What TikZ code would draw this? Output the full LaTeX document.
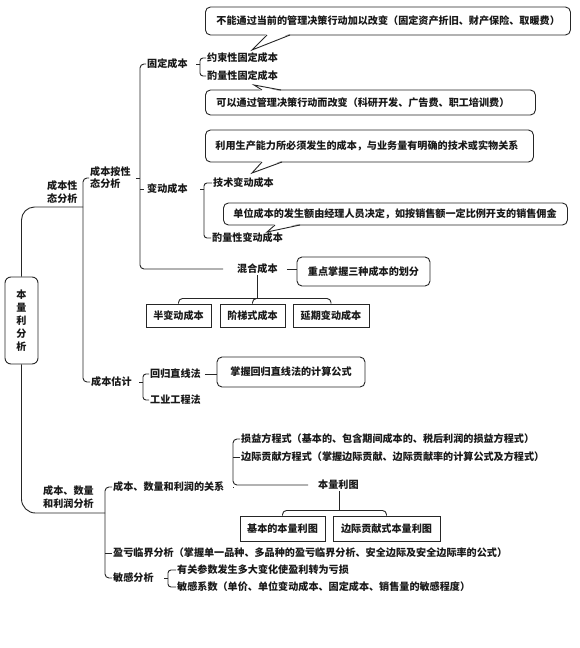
\documentclass[tikz,border=0pt]{standalone}
\usepackage{fontspec}
\newfontfamily\cjk{Noto Sans CJK SC}
\tikzset{
  every node/.style={font=\cjk\bfseries\fontsize{10.1}{13}\selectfont, inner sep=1pt, text=black!90},
  ln/.style={line width=0.9pt, draw=black!85},
  txt/.style={anchor=west},
  callout/.style={draw=black!85, line width=0.9pt, rounded corners=5pt, inner sep=0pt},
  callw/.style={callout, anchor=west, align=left},
  sq/.style={draw=black!85, line width=1pt, inner sep=0pt},
}
\begin{document}
\begin{tikzpicture}[x=1pt,y=-1pt]
\useasboundingbox (0,0) rectangle (580,648);
\fill[white] (0,0) rectangle (580,648);

% ---------- nodes ----------
\node[callout, rounded corners=6pt, minimum width=33pt, minimum height=87pt, align=center] (root) at (21.5,320.5) {本\\量\\利\\分\\析};

\node[txt, align=left] (xingtai) at (46,192) {成本性\\态分析};
\node[txt, align=left, font=\cjk\bfseries\fontsize{10.1}{12}\selectfont] (xing) at (89,178) {成本按性\\态分析};
\node[txt] (guding) at (146,64) {固定成本};
\node[txt] (biandong) at (146,189) {变动成本};
\node[txt] (hunhe) at (236,269) {混合成本};
\node[txt] (yueshu) at (206,58) {约束性固定成本};
\node[txt] (zlgd) at (206,76) {酌量性固定成本};
\node[txt] (jishu) at (212,183) {技术变动成本};
\node[txt] (zlbd) at (211,238) {酌量性变动成本};

\node[callw, inner xsep=11pt, text width=343pt, minimum height=28pt] (c1) at (205,21) {不能通过当前的管理决策行动加以改变（固定资产折旧、财产保险、取暖费）};
\node[callw, inner xsep=11pt, text width=308pt, minimum height=25pt] (c2) at (205,102.5) {可以通过管理决策行动而改变（科研开发、广告费、职工培训费）};
\node[callw, inner xsep=10pt, text width=308pt, minimum height=32pt] (c3) at (205,146) {利用生产能力所必须发生的成本，与业务量有明确的技术或实物关系};
\node[callw, inner xsep=10pt, text width=324pt, minimum height=22pt] (c4) at (223,214) {单位成本的发生额由经理人员决定，如按销售额一定比例开支的销售佣金};

\node[callout, minimum width=133pt, minimum height=29pt] (zhongdian) at (363.5,271.5) {重点掌握三种成本的划分};
\node[sq, minimum width=65pt, minimum height=23pt] (bb1) at (178.5,315.5) {半变动成本};
\node[sq, minimum width=65pt, minimum height=23pt] (bb2) at (252.5,315.5) {阶梯式成本};
\node[sq, minimum width=76pt, minimum height=23pt] (bb3) at (331,315.5) {延期变动成本};

\node[txt] (gusuan) at (90,382) {成本估计};
\node[txt] (huigui) at (149,374) {回归直线法};
\node[txt] (gongye) at (149,400) {工业工程法};
\node[callout, minimum width=148pt, minimum height=30pt] (zhangwo) at (291,372) {掌握回归直线法的计算公式};

\node[txt, align=left] (cvp) at (42,497) {成本、数量\\和利润分析};
\node[txt] (guanxi) at (112,487) {成本、数量和利润的关系};
\node[txt] (sunyi) at (240,439) {损益方程式（基本的、包含期间成本的、税后利润的损益方程式）};
\node[txt] (bianji) at (240,457) {边际贡献方程式（掌握边际贡献、边际贡献率的计算公式及方程式）};
\node[txt] (blt) at (317,485) {本量利图};
\node[sq, minimum width=85pt, minimum height=25pt] (jb) at (282.5,528.5) {基本的本量利图};
\node[sq, minimum width=107pt, minimum height=25pt] (bj) at (386.5,528.5) {边际贡献式本量利图};
\node[txt] (yingkui) at (112,553) {盈亏临界分析（掌握单一品种、多品种的盈亏临界分析、安全边际及安全边际率的公式）};
\node[txt] (mingan) at (112,578) {敏感分析};
\node[txt] (youguan) at (176,570) {有关参数发生多大变化使盈利转为亏损};
\node[txt] (xishu) at (176,587) {敏感系数（单价、单位变动成本、固定成本、销售量的敏感程度）};

% ---------- callout pointers ----------
\fill[white] (267,33.5) -- (252,50) -- (290,33.5) -- cycle;
\draw[ln] (267,35) -- (252,50) -- (290,35);
\fill[white] (262,91.5) -- (254,85) -- (281,91.5) -- cycle;
\draw[ln] (262,90) -- (254,85) -- (281,90);
\fill[white] (262,160.5) -- (252,173) -- (282,160.5) -- cycle;
\draw[ln] (262,162) -- (252,173) -- (282,162);
\fill[white] (275,223.5) -- (267,232) -- (300,223.5) -- cycle;
\draw[ln] (275,225) -- (267,232) -- (300,225);

% ---------- coordinates ----------
\coordinate (j1) at (83,207);
\coordinate (b1) at (83,0);
\coordinate (j2) at (105,513);
\coordinate (b5) at (105,0);
\coordinate (b2) at (140,0);
\coordinate (b3) at (200,0);
\coordinate (b4) at (204,0);
\coordinate (b6) at (233,0);
\coordinate (b7) at (143,0);
\coordinate (b8) at (168,0);
\coordinate (h1) at (257,299);
\coordinate (h2) at (339,511);

% ---------- connectors ----------
\draw[ln, rounded corners=13] (root.north) |- (j1);
\draw[ln, rounded corners=14] (root.south) |- (j2);

\draw[ln, rounded corners=4] (xing.west) -- (xing.west -| b1) -- (gusuan.west -| b1) -- (gusuan.west);

\draw[ln, rounded corners=4] (guding.west) -- (guding.west -| b2) -- (b2 |- hunhe.west) -- ([xshift=-13]hunhe.west);
\draw[ln] ([xshift=4]xing.east) -- (xing.east -| b2);
\draw[ln] (biandong.west -| b2) -- ([xshift=-2]biandong.west);

\draw[ln, rounded corners=3] (yueshu.west) -- (yueshu.west -| b3) -- (zlgd.west -| b3) -- (zlgd.west);
\draw[ln] (guding.east -| b3) -- ++(-4,0);
\draw[ln, rounded corners=3] (jishu.west) -- (jishu.west -| b4) -- (zlbd.west -| b4) -- (zlbd.west);
\draw[ln] (biandong.east -| b4) -- ++(-4,0);

\draw[ln] ([xshift=8]hunhe.east) -- (zhongdian.west |- hunhe.east);
\draw[ln] (hunhe.south -| h1) -- (h1);
\draw[ln, rounded corners=4] (bb1.north) -- ++(0,-5) -| (bb3.north);
\draw[ln, rounded corners=4] (bb2.north) -- ++(0,-5) -- ++(6,0);

\draw[ln, rounded corners=3] (huigui.west) -- (huigui.west -| b7) -- (gongye.west -| b7) -- (gongye.west);
\draw[ln] (gusuan.east -| b7) -- ++(-4,0);
\draw[ln] ([xshift=3]huigui.east) -- (zhangwo.west |- huigui.east);

\draw[ln, rounded corners=4] (guanxi.west) -- (guanxi.west -| b5) -- (mingan.west -| b5) -- (mingan.west);
\draw[ln] (yingkui.west -| b5) -- (yingkui.west);

\draw[ln, rounded corners=4] (sunyi.west) -- (sunyi.west -| b6) -- (b6 |- blt.west) -- ([xshift=-9]blt.west);
\draw[ln] (bianji.west -| b6) -- (bianji.west);
\draw[ln] ([xshift=8]guanxi.east) -- (guanxi.east -| b6);
\draw[ln] (blt.south -| h2) -- (h2);
\draw[ln, rounded corners=4] (jb.north) -- ++(0,-5) -| (bj.north);

\draw[ln, rounded corners=3] (youguan.west) -- (youguan.west -| b8) -- (xishu.west -| b8) -- (xishu.west);
\draw[ln] (mingan.east -| b8) -- ++(-4,0);
\end{tikzpicture}
\end{document}
